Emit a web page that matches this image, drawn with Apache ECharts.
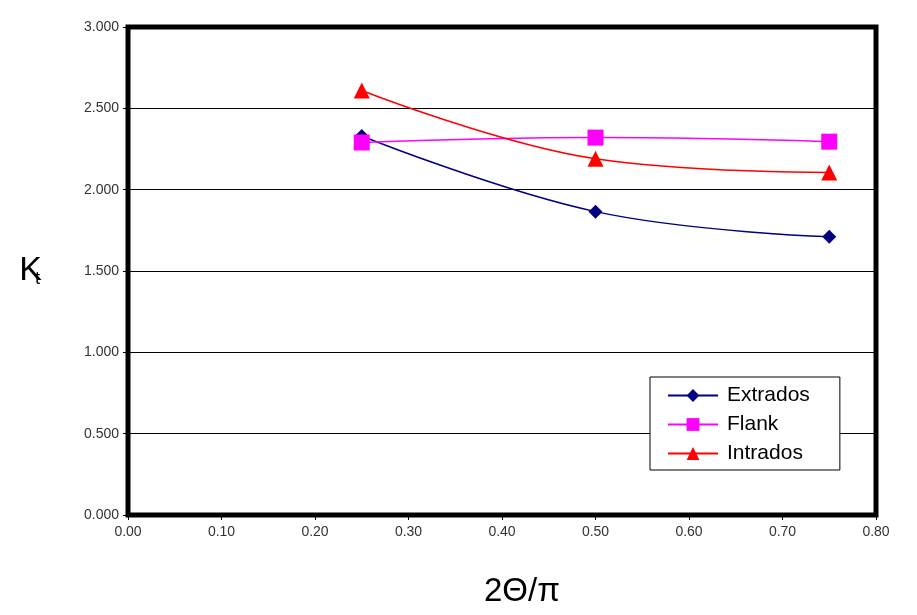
<!DOCTYPE html>
<html><head><meta charset="utf-8">
<script src="https://cdn.jsdelivr.net/npm/echarts@6/dist/echarts.min.js"></script>
<style>html,body{margin:0;padding:0;background:#fff}#c{width:917px;height:615px}</style>
</head><body><div id="c"></div>
<script>
const xValues = [0.25, 0.50, 0.75];
const extrados = [2.33, 1.865, 1.71];
const flank = [2.29, 2.32, 2.295];
const intrados = [2.61, 2.19, 2.105];
const seriesNames = ['Extrados', 'Flank', 'Intrados'];

const pair = (ys) => xValues.map((x, i) => [x, ys[i]]);
const font = 'Liberation Sans, Arial, sans-serif';
const chart = echarts.init(document.getElementById('c'));
chart.setOption({
  animation: false,
  grid: { left: 128, right: 41, top: 27, bottom: 100, show: true, borderColor: '#000', borderWidth: 5, backgroundColor: '#fff' },
  xAxis: {
    type: 'value', min: 0, max: 0.8, interval: 0.1,
    name: '2Θ/π', nameLocation: 'middle', nameGap: 60,
    nameTextStyle: { fontSize: 33, color: '#000', fontFamily: font, padding: [0, 0, 0, 40] },
    axisLine: { show: true, lineStyle: { color: '#000', width: 1 } },
    axisTick: { show: true, length: 5, lineStyle: { color: '#000' } },
    axisLabel: { formatter: v => v.toFixed(2), fontSize: 14, color: '#333', fontFamily: font, margin: 10 },
    splitLine: { show: false }
  },
  yAxis: {
    type: 'value', min: 0, max: 3, interval: 0.5,
    name: '{k|K}{t|t}', nameLocation: 'middle', nameGap: 88, nameRotate: 0,
    nameTextStyle: { rich: { k: { fontSize: 34, color: '#000', fontFamily: font }, t: { fontSize: 18, color: '#000', fontFamily: font, padding: [16, 0, 0, -7] } } },
    axisLine: { show: true, lineStyle: { color: '#000', width: 1 } },
    axisTick: { show: true, length: 5, lineStyle: { color: '#000' } },
    axisLabel: { formatter: v => v.toFixed(3), fontSize: 14, color: '#333', fontFamily: font, margin: 9 },
    splitLine: { show: true, lineStyle: { color: '#000', width: 1 } }
  },
  legend: {
    left: 650, top: 377, orient: 'vertical',
    data: seriesNames,
    backgroundColor: '#fff', borderColor: '#000', borderWidth: 1,
    padding: [8, 30, 6, 17], itemGap: 8, itemWidth: 50, itemHeight: 16,
    textStyle: { fontSize: 21, color: '#000', fontFamily: font, padding: [0, 0, 0, 4] }
  },
  series: [
    { name: 'Extrados', type: 'line', smooth: 0.4, data: pair(extrados), symbol: 'diamond', symbolSize: 14,
      itemStyle: { color: '#000080' }, lineStyle: { color: '#000080', width: 1.5 } },
    { name: 'Flank', type: 'line', smooth: 0.4, data: pair(flank), symbol: 'rect', symbolSize: 16,
      itemStyle: { color: '#FF00FF' }, lineStyle: { color: '#FF00FF', width: 1.5 } },
    { name: 'Intrados', type: 'line', smooth: 0.4, data: pair(intrados), symbol: 'triangle', symbolSize: 16,
      itemStyle: { color: '#FF0000' }, lineStyle: { color: '#FF0000', width: 1.5 } }
  ]
});
</script></body></html>
